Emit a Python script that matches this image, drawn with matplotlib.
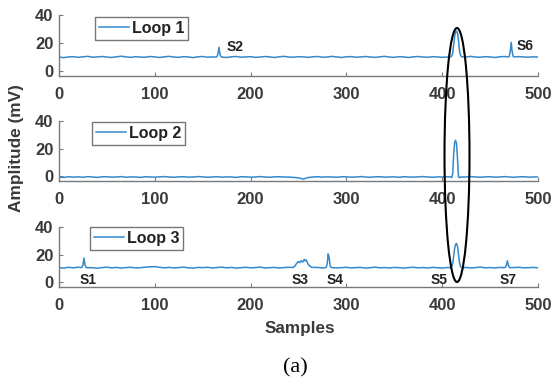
import matplotlib
matplotlib.use("Agg")
import matplotlib.pyplot as plt
from matplotlib.patches import Ellipse

# ---------------- data ----------------
base_x = list(range(0, 501, 5))

loop1_base = [10.0, 9.6, 10.1, 10.3, 9.8, 10.2, 10.5, 9.9, 10.1, 10.4,
              10.0, 9.7, 10.2, 10.6, 10.1, 9.8, 10.3, 10.0, 9.9, 10.4,
              10.1, 9.7, 10.2, 10.5, 10.0, 9.8, 10.3, 10.1, 9.6, 10.2,
              10.4, 9.9, 10.1, 10.5, 10.0, 9.7, 10.2, 10.4, 9.9, 10.1,
              10.3, 9.8, 10.0, 10.4, 10.1, 9.7, 10.2, 10.5, 10.0, 9.9,
              10.3, 10.1, 9.8, 10.2, 10.4, 9.9, 10.0, 10.5, 10.1, 9.7,
              10.2, 10.3, 9.9, 10.1, 10.4, 10.0, 9.8, 10.2, 10.5, 10.0,
              9.8, 10.3, 10.1, 9.7, 10.2, 10.4, 10.0, 9.9, 10.3, 10.1,
              9.8, 10.0, 10.4, 10.2, 9.8, 10.1, 10.5, 10.0, 9.9, 10.3,
              10.1, 9.7, 10.2, 10.4, 10.0, 9.8, 10.3, 10.1, 9.9, 10.2, 10.0]
loop1_peak_x = [164, 165, 166, 167, 168, 169, 170,
                409, 410, 411, 412, 413, 414, 415, 416, 417, 418, 419, 420, 421,
                469, 470, 471, 472, 473, 474, 475]
loop1_peak_y = [10.0, 10.4, 12.5, 17.0, 12.0, 10.3, 10.0,
                10.2, 10.8, 13.0, 19.0, 25.0, 28.0, 28.5, 27.0, 22.0, 15.0, 11.5, 10.4, 10.1,
                10.1, 10.6, 14.0, 20.5, 14.0, 10.6, 10.1]

loop2_base = [-0.6, -0.9, -0.4, -0.7, -0.5, -0.8, -0.3, -0.6, -0.9, -0.5,
              -0.4, -0.7, -0.6, -0.3, -0.8, -0.5, -0.6, -0.9, -0.4, -0.6,
              -0.7, -0.5, -0.3, -0.6, -0.8, -0.5, -0.4, -0.7, -0.6, -0.3,
              -0.5, -0.8, -0.6, -0.4, -0.7, -0.5, -0.6, -0.9, -0.4, -0.5,
              -0.7, -0.6, -0.3, -0.6, -0.8, -0.5, -0.4, -0.6, -0.7, -0.9,
              -1.2, -2.1, -1.0, -0.6, -0.4, -0.7, -0.5, -0.6, -0.8, -0.4,
              -0.5, -0.7, -0.6, -0.3, -0.6, -0.8, -0.5, -0.4, -0.7, -0.6,
              -0.5, -0.8, -0.4, -0.6, -0.7, -0.5, -0.3, -0.6, -0.8, -0.5,
              -0.6, -0.4, -0.7, -0.9, -0.5, -0.6, -0.3, -0.6, -0.8, -0.5,
              -0.4, -0.7, -0.6, -0.3, -0.6, -0.8, -0.5, -0.4, -0.7, -0.6, -0.5]
loop2_peak_x = [409, 410, 411, 412, 413, 414, 415, 416, 417, 418, 419]
loop2_peak_y = [-0.6, -1.0, 2.0, 16.0, 24.5, 26.0, 23.5, 12.0, -0.5, -1.1, -0.6]

loop3_base = [10.6, 10.2, 10.8, 10.4, 10.9, 10.3, 10.7, 10.5, 10.1, 10.6,
              10.9, 10.4, 10.7, 10.2, 10.6, 10.8, 10.3, 10.5, 10.9, 11.1,
              11.3, 10.8, 10.4, 10.7, 10.3, 10.6, 10.9, 10.4, 10.2, 10.7,
              10.5, 10.8, 10.3, 10.6, 10.9, 10.4, 10.7, 10.2, 10.5, 10.8,
              10.4, 10.6, 10.9, 10.3, 10.5, 10.7, 10.2, 10.6, 10.8, 10.5,
              10.3, 10.6, 10.8, 10.4, 10.7, 10.3, 10.6, 10.9, 10.4, 10.5,
              10.8, 10.3, 10.6, 10.7, 10.2, 10.5, 10.9, 10.4, 10.6, 10.3,
              10.7, 10.5, 10.2, 10.6, 10.8, 10.4, 10.6, 10.3, 10.7, 10.5,
              10.2, 10.6, 10.8, 10.4, 10.5, 10.7, 10.3, 10.6, 10.9, 10.4,
              10.6, 10.3, 10.7, 10.5, 10.2, 10.6, 10.8, 10.4, 10.5, 10.7, 10.4]
loop3_peak_x = [23, 24, 25, 26, 27, 28, 29,
                244, 246, 248, 249, 250, 251, 252, 253, 254, 255, 256, 257, 258, 259, 260, 262, 264,
                278, 279, 280, 281, 282, 283, 284, 285,
                409, 410, 411, 412, 413, 414, 415, 416, 417, 418, 419, 420, 421,
                465, 466, 467, 468, 469, 470, 471]
loop3_peak_y = [10.5, 10.8, 12.5, 17.5, 13.0, 10.8, 10.5,
                10.6, 11.5, 13.5, 14.5, 15.0, 14.2, 14.8, 15.6, 14.6, 15.2, 16.5, 15.4, 16.2, 14.5, 13.0, 11.6, 10.7,
                10.5, 10.8, 13.5, 20.5, 18.0, 12.0, 10.7, 10.5,
                10.5, 11.0, 13.5, 19.0, 24.5, 27.5, 28.0, 26.0, 20.5, 14.5, 11.5, 10.7, 10.4,
                10.5, 10.8, 12.5, 15.5, 12.5, 10.8, 10.5]

legend_labels = ["Loop 1", "Loop 2", "Loop 3"]
x_ticks = [0, 100, 200, 300, 400, 500]
y_ticks = [0, 20, 40]

annotations = [
    (0, "S2", 175, 17), (0, "S6", 478, 18),
    (2, "S1", 21, 1.5), (2, "S3", 243, 1.5), (2, "S4", 279, 1.5),
    (2, "S5", 388, 1.5), (2, "S7", 460, 1.5),
]


def merge(bx, by, px, py):
    clusters = []
    cur = [px[0]]
    for a, b in zip(px[:-1], px[1:]):
        if b - a > 5:
            clusters.append((cur[0], cur[-1]))
            cur = [b]
        else:
            cur.append(b)
    clusters.append((cur[0], cur[-1]))
    pts = [(x, y) for x, y in zip(bx, by)
           if not any(c0 - 1 <= x <= c1 + 1 for c0, c1 in clusters)]
    pts += list(zip(px, py))
    pts.sort()
    return [p[0] for p in pts], [p[1] for p in pts]


series = [
    merge(base_x, loop1_base, loop1_peak_x, loop1_peak_y),
    merge(base_x, loop2_base, loop2_peak_x, loop2_peak_y),
    merge(base_x, loop3_base, loop3_peak_x, loop3_peak_y),
]

# ---------------- figure ----------------
plt.rcParams['font.family'] = ['Liberation Sans', 'DejaVu Sans']
W, H = 554, 383
fig = plt.figure(figsize=(W / 100, H / 100), dpi=100)

line_color = '#3589cb'
axis_color = '#7a7a7a'
text_color = '#3a3a3a'

left = 59 / W
width = (538 - 59) / W
tops = [15, 121, 227]
bottoms = [76, 181, 287]
legend_boxes = [(95, 17), (92, 122), (90, 227)]

axes = []
for i in range(3):
    b = 1 - bottoms[i] / H
    h = (bottoms[i] - tops[i]) / H
    ax = fig.add_axes([left, b, width, h])
    xs, ys = series[i]
    ax.plot(xs, ys, color=line_color, lw=1.1, label=legend_labels[i])
    ax.set_xlim(0, 500)
    ax.set_ylim(-3.5, 40)
    ax.set_xticks(x_ticks)
    ax.set_yticks(y_ticks)
    for s in ['top', 'right']:
        ax.spines[s].set_visible(False)
    for s in ['left', 'bottom']:
        ax.spines[s].set_color(axis_color)
        ax.spines[s].set_linewidth(1.0)
    ax.tick_params(direction='in', length=3, color=axis_color,
                   labelsize=12, labelcolor=text_color)
    ax.tick_params(axis='x', pad=8)
    ax.tick_params(axis='y', pad=4)
    for lab in ax.get_xticklabels() + ax.get_yticklabels():
        lab.set_fontweight('bold')
    lx, ly = legend_boxes[i]
    fx = (lx - 59) / (538 - 59)
    fy = 1 - (ly - tops[i]) / (bottoms[i] - tops[i])
    leg = ax.legend(loc='upper left', bbox_to_anchor=(fx, fy), borderaxespad=0,
                    fancybox=False, frameon=True, handlelength=1.9,
                    handletextpad=0.15, borderpad=0.25,
                    prop={'weight': 'bold', 'size': 11.5})
    leg.get_frame().set_edgecolor('#555555')
    leg.get_frame().set_linewidth(1.0)
    for t in leg.get_texts():
        t.set_color('#222222')
    axes.append(ax)

for idx, txt, x, y in annotations:
    axes[idx].text(x, y, txt, fontsize=10, fontweight='bold', color='#222222',
                   ha='left', va='center')

# ellipse highlighting the common event
ell = Ellipse((457 / W, 1 - 155 / H), 25 / W, 254 / H, transform=fig.transFigure,
              fill=False, edgecolor='black', lw=1.5)
fig.add_artist(ell)

fig.text(17 / W, 1 - 148 / H, "Amplitude (mV)", rotation=90, ha='center', va='center',
         fontsize=12.4, fontweight='bold', color=text_color)
fig.text(300 / W, 1 - 329 / H, "Samples", ha='center', va='center',
         fontsize=12.3, fontweight='bold', color=text_color)
fig.text(295 / W, 1 - 368 / H, "(a)", ha='center', va='center',
         fontsize=16, family=['Liberation Serif', 'DejaVu Serif'], color='black')

fig.savefig("out.png", dpi=100, facecolor='white')
